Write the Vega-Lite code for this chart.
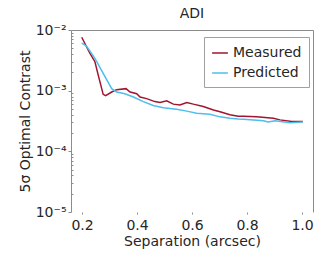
{
  "$schema": "https://vega.github.io/schema/vega-lite/v6.json",
  "autosize": "none",
  "width": 242,
  "height": 182,
  "padding": {"left": 71, "top": 30, "right": 19, "bottom": 54},
  "background": "white",
  "config": {
    "font": "DejaVu Sans",
    "view": {"stroke": null},
    "axis": {"labelFont": "DejaVu Sans", "titleFont": "DejaVu Sans", "labelColor": "#262626", "titleColor": "#262626", "titleFontWeight": "normal", "grid": false, "domainColor": "#8c8c8c", "tickColor": "#8c8c8c"}
  },
  "title": {"text": "ADI", "fontSize": 14, "fontWeight": "normal", "color": "#262626", "offset": 2, "font": "DejaVu Sans"},
  "data": {
    "values": [
      {"sep": 0.199, "c": 7.6e-3, "s": "Measured"},
      {"sep": 0.229, "c": 4.1e-3, "s": "Measured"},
      {"sep": 0.247, "c": 3.0e-3, "s": "Measured"},
      {"sep": 0.259, "c": 1.8e-3, "s": "Measured"},
      {"sep": 0.277, "c": 8.7e-4, "s": "Measured"},
      {"sep": 0.286, "c": 8.3e-4, "s": "Measured"},
      {"sep": 0.308, "c": 9.5e-4, "s": "Measured"},
      {"sep": 0.326, "c": 1.04e-3, "s": "Measured"},
      {"sep": 0.36, "c": 1.08e-3, "s": "Measured"},
      {"sep": 0.375, "c": 9.5e-4, "s": "Measured"},
      {"sep": 0.399, "c": 8.9e-4, "s": "Measured"},
      {"sep": 0.411, "c": 7.85e-4, "s": "Measured"},
      {"sep": 0.435, "c": 7.4e-4, "s": "Measured"},
      {"sep": 0.465, "c": 6.6e-4, "s": "Measured"},
      {"sep": 0.484, "c": 6.4e-4, "s": "Measured"},
      {"sep": 0.508, "c": 6.8e-4, "s": "Measured"},
      {"sep": 0.532, "c": 6.0e-4, "s": "Measured"},
      {"sep": 0.556, "c": 5.8e-4, "s": "Measured"},
      {"sep": 0.581, "c": 6.4e-4, "s": "Measured"},
      {"sep": 0.605, "c": 6.0e-4, "s": "Measured"},
      {"sep": 0.641, "c": 5.5e-4, "s": "Measured"},
      {"sep": 0.678, "c": 4.8e-4, "s": "Measured"},
      {"sep": 0.702, "c": 4.5e-4, "s": "Measured"},
      {"sep": 0.738, "c": 4.0e-4, "s": "Measured"},
      {"sep": 0.768, "c": 3.8e-4, "s": "Measured"},
      {"sep": 0.787, "c": 3.8e-4, "s": "Measured"},
      {"sep": 0.835, "c": 3.7e-4, "s": "Measured"},
      {"sep": 0.896, "c": 3.5e-4, "s": "Measured"},
      {"sep": 0.92, "c": 3.3e-4, "s": "Measured"},
      {"sep": 0.963, "c": 3.1e-4, "s": "Measured"},
      {"sep": 1.003, "c": 3.1e-4, "s": "Measured"},
      {"sep": 0.199, "c": 6.1e-3, "s": "Predicted"},
      {"sep": 0.217, "c": 5.4e-3, "s": "Predicted"},
      {"sep": 0.247, "c": 3.4e-3, "s": "Predicted"},
      {"sep": 0.277, "c": 1.92e-3, "s": "Predicted"},
      {"sep": 0.308, "c": 1.08e-3, "s": "Predicted"},
      {"sep": 0.326, "c": 9.5e-4, "s": "Predicted"},
      {"sep": 0.356, "c": 8.9e-4, "s": "Predicted"},
      {"sep": 0.387, "c": 7.85e-4, "s": "Predicted"},
      {"sep": 0.423, "c": 6.6e-4, "s": "Predicted"},
      {"sep": 0.459, "c": 5.7e-4, "s": "Predicted"},
      {"sep": 0.496, "c": 5.25e-4, "s": "Predicted"},
      {"sep": 0.544, "c": 4.95e-4, "s": "Predicted"},
      {"sep": 0.581, "c": 4.6e-4, "s": "Predicted"},
      {"sep": 0.617, "c": 4.25e-4, "s": "Predicted"},
      {"sep": 0.665, "c": 4.1e-4, "s": "Predicted"},
      {"sep": 0.702, "c": 3.7e-4, "s": "Predicted"},
      {"sep": 0.738, "c": 3.5e-4, "s": "Predicted"},
      {"sep": 0.768, "c": 3.4e-4, "s": "Predicted"},
      {"sep": 0.787, "c": 3.38e-4, "s": "Predicted"},
      {"sep": 0.86, "c": 3.2e-4, "s": "Predicted"},
      {"sep": 0.877, "c": 3.05e-4, "s": "Predicted"},
      {"sep": 0.902, "c": 3.2e-4, "s": "Predicted"},
      {"sep": 0.956, "c": 2.96e-4, "s": "Predicted"},
      {"sep": 1.003, "c": 3.04e-4, "s": "Predicted"}
    ]
  },
  "resolve": {"axis": {"x": "independent", "y": "independent"}},
  "layer": [
    {
      "mark": {"type": "line", "strokeWidth": 1.5, "clip": true},
      "encoding": {
        "x": {"field": "sep", "type": "quantitative", "scale": {"domain": [0.16, 1.04], "nice": false, "zero": false},
          "axis": {"values": [0.2, 0.4, 0.6, 0.8, 1.0], "format": ".1f", "domain": false, "tickSize": 2, "labelFontSize": 14, "titleFontSize": 14, "labelPadding": 4, "titlePadding": 2, "title": "Separation (arcsec)"}},
        "y": {"field": "c", "type": "quantitative", "scale": {"type": "log", "domain": [1e-5, 1e-2], "nice": false},
          "axis": {"values": [1e-5, 1e-4, 1e-3, 1e-2], "labelExpr": "datum.value >= 0.005 ? '10⁻²' : datum.value >= 0.0005 ? '10⁻³' : datum.value >= 0.00005 ? '10⁻⁴' : '10⁻⁵'", "tickSize": 3, "labelFontSize": 14, "titleFontSize": 14, "labelPadding": 2, "titlePadding": 3, "title": "5σ Optimal Contrast"}},
        "color": {"field": "s", "type": "nominal", "scale": {"domain": ["Measured", "Predicted"], "range": ["#A2142F", "#4DBEEE"]},
          "legend": {"title": null, "orient": "none", "legendX": 133, "legendY": 7, "symbolType": "stroke", "symbolStrokeWidth": 1.5, "symbolSize": 250, "labelFontSize": 14, "labelColor": "#262626", "fillColor": "white", "strokeColor": "#a0a0a0", "padding": 7, "rowPadding": 4, "labelOffset": 4}}
      }
    },
    {
      "mark": {"type": "line", "opacity": 0},
      "encoding": {
        "x": {"field": "sep", "type": "quantitative", "axis": {"orient": "top", "labels": false, "ticks": false, "title": null}},
        "y": {"field": "c", "type": "quantitative", "axis": {"orient": "right", "labels": false, "ticks": false, "title": null}},
        "detail": {"field": "s"}
      }
    },
    {
      "mark": {"type": "line", "opacity": 0},
      "encoding": {
        "x": {"field": "sep", "type": "quantitative", "axis": null},
        "y": {"field": "c", "type": "quantitative", "axis": {"orient": "left", "labels": false, "domain": false, "tickSize": -2, "title": null, "values": [2e-5, 3e-5, 4e-5, 5e-5, 6e-5, 7e-5, 8e-5, 9e-5, 2e-4, 3e-4, 4e-4, 5e-4, 6e-4, 7e-4, 8e-4, 9e-4, 2e-3, 3e-3, 4e-3, 5e-3, 6e-3, 7e-3, 8e-3, 9e-3]}},
        "detail": {"field": "s"}
      }
    }
  ]
}
